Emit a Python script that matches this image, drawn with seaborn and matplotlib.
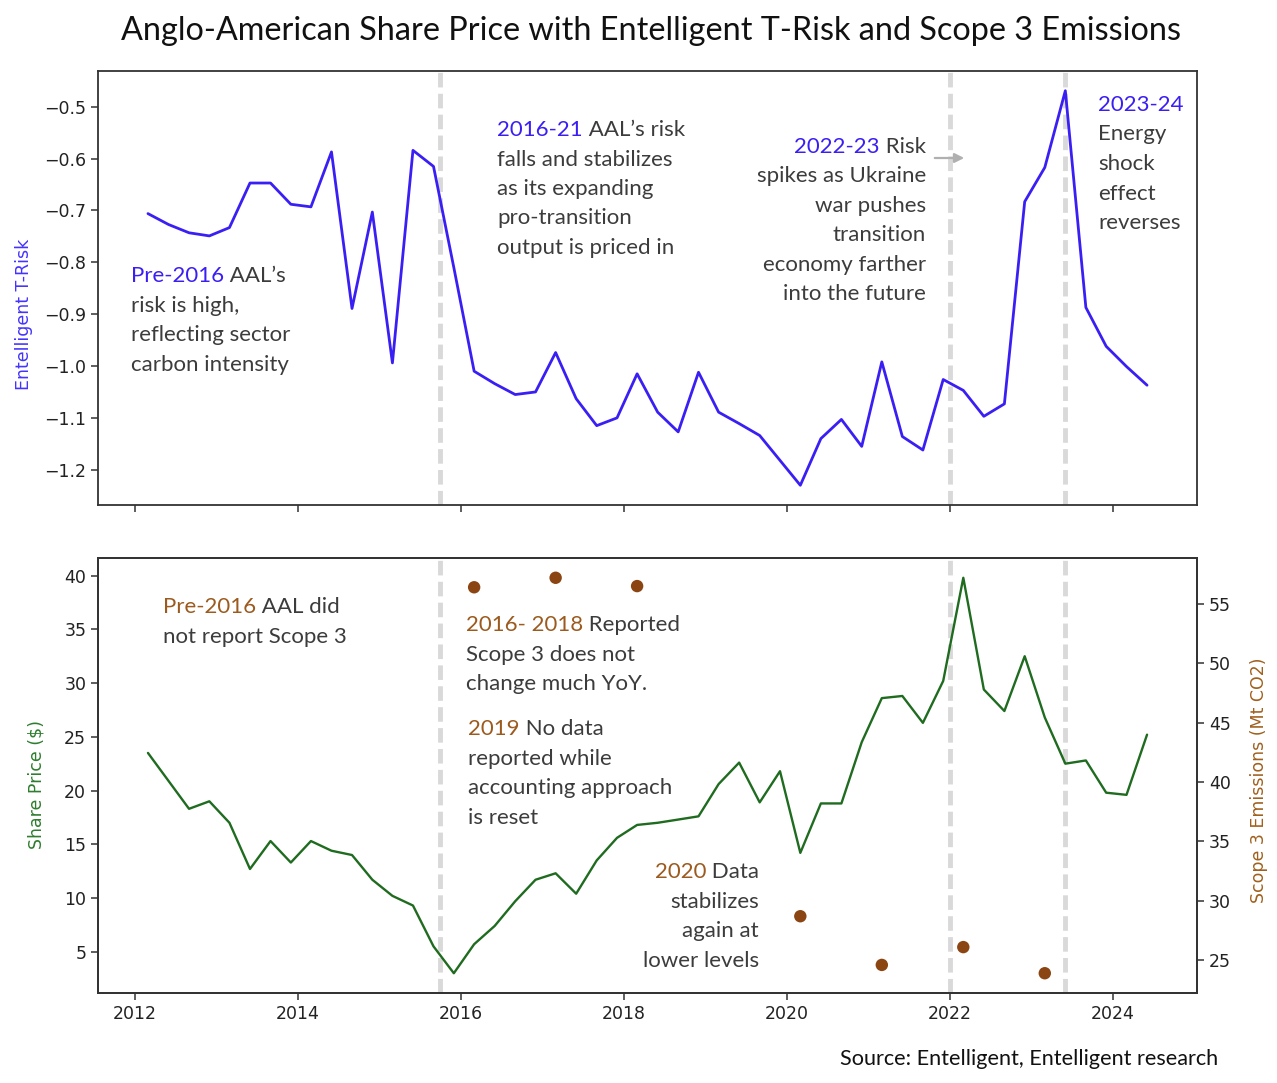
import numpy as np
import pandas as pd
import matplotlib
matplotlib.use("Agg")
import matplotlib.pyplot as plt
import seaborn as sns

# ---------------- data ----------------
quarters = [
    "2012-03-01", "2012-06-01", "2012-09-01", "2012-12-01",
    "2013-03-01", "2013-06-01", "2013-09-01", "2013-12-01",
    "2014-03-01", "2014-06-01", "2014-09-01", "2014-12-01",
    "2015-03-01", "2015-06-01", "2015-09-01", "2015-12-01",
    "2016-03-01", "2016-06-01", "2016-09-01", "2016-12-01",
    "2017-03-01", "2017-06-01", "2017-09-01", "2017-12-01",
    "2018-03-01", "2018-06-01", "2018-09-01", "2018-12-01",
    "2019-03-01", "2019-06-01", "2019-09-01", "2019-12-01",
    "2020-03-01", "2020-06-01", "2020-09-01", "2020-12-01",
    "2021-03-01", "2021-06-01", "2021-09-01", "2021-12-01",
    "2022-03-01", "2022-06-01", "2022-09-01", "2022-12-01",
    "2023-03-01", "2023-06-01", "2023-09-01", "2023-12-01",
    "2024-03-01", "2024-06-01",
]
t_risk = [
    -0.706, -0.727, -0.743, -0.749, -0.733, -0.647, -0.647, -0.688, -0.693, -0.587,
    -0.889, -0.703, -0.994, -0.584, -0.615, -0.810, -1.010, -1.034, -1.055, -1.050,
    -0.974, -1.063, -1.115, -1.100, -1.015, -1.089, -1.127, -1.012, -1.089, -1.111,
    -1.134, -1.182, -1.230, -1.140, -1.103, -1.155, -0.992, -1.136, -1.162, -1.026,
    -1.047, -1.097, -1.073, -0.683, -0.617, -0.469, -0.887, -0.962, -1.001, -1.037,
]
share_price = [
    23.5, 20.9, 18.3, 19.0, 17.0, 12.7, 15.3, 13.3, 15.3, 14.4,
    14.0, 11.7, 10.2, 9.3, 5.5, 3.0, 5.7, 7.4, 9.7, 11.7,
    12.3, 10.4, 13.5, 15.6, 16.8, 17.0, 17.3, 17.6, 20.6, 22.6,
    18.9, 21.8, 14.2, 18.8, 18.8, 24.5, 28.6, 28.8, 26.3, 30.2,
    39.8, 29.4, 27.4, 32.5, 26.8, 22.5, 22.8, 19.8, 19.6, 25.2,
]
scope3_dates = ["2016-03-01", "2017-03-01", "2018-03-01", "2020-03-01",
                "2021-03-01", "2022-03-01", "2023-03-01"]
scope3_values = [56.4, 57.2, 56.5, 28.7, 24.6, 26.1, 23.9]
event_dates = ["2015-10-01", "2022-01-01", "2023-06-01"]
year_ticks = ["2012", "2014", "2016", "2018", "2020", "2022", "2024"]

df = pd.DataFrame({"date": pd.to_datetime(quarters), "risk": t_risk, "price": share_price})
ds = pd.DataFrame({"date": pd.to_datetime(scope3_dates), "scope3": scope3_values})

# ---------------- style ----------------
sns.set_theme(style="ticks")
plt.rcParams["font.family"] = ["DejaVu Sans"]

W, H = 1277, 1083
BLUE = "#3a1ff5"
GREEN = "#1f6b1f"
BROWN_DOT = "#8b4513"
BROWN_TXT = "#9c5a1e"
GRAY_TXT = "#3c3c3c"
SPINE = "#333333"
ANN_FONT = "Lato"
ANN_SIZE = 16

fig = plt.figure(figsize=(W / 100, H / 100), dpi=100)
ax_t = fig.add_axes([98 / W, 1 - 505 / H, 1099 / W, 434 / H])
ax_b = fig.add_axes([98 / W, 1 - 993 / H, 1099 / W, 435 / H], sharex=ax_t)
ax_r = ax_b.twinx()

sns.lineplot(data=df, x="date", y="risk", ax=ax_t, color=BLUE, lw=2.0)
sns.lineplot(data=df, x="date", y="price", ax=ax_b, color=GREEN, lw=1.7)
sns.scatterplot(data=ds, x="date", y="scope3", ax=ax_r, color=BROWN_DOT, s=80,
                edgecolor="none", zorder=3)

for ax in (ax_t, ax_b):
    for d in event_dates:
        ax.axvline(pd.Timestamp(d), color="#d9d9d9", lw=3.5, dashes=(3, 1.3), zorder=0)

ticks = [pd.Timestamp(y + "-01-01") for y in year_ticks]
ax_b.set_xticks(ticks)
ax_b.set_xticklabels(year_ticks)
plt.setp(ax_t.get_xticklabels(), visible=False)

for ax in (ax_t, ax_b, ax_r):
    for s in ax.spines.values():
        s.set_color(SPINE)
        s.set_linewidth(1.3)
    ax.tick_params(length=5, width=1.1, color=SPINE, labelsize=12.5, labelcolor="#222222")
    ax.set_xlabel("")

ax_t.set_yticks([-0.5, -0.6, -0.7, -0.8, -0.9, -1.0, -1.1, -1.2])
ax_b.set_yticks([5, 10, 15, 20, 25, 30, 35, 40])
ax_r.set_yticks([25, 30, 35, 40, 45, 50, 55])

ax_t.set_ylabel("Entelligent T-Risk", color="#4433ff", fontsize=12.5)
ax_t.yaxis.set_label_coords(-0.059, 0.44)
ax_b.set_ylabel("Share Price ($)", color="#2e7d2e", fontsize=12.5)
ax_b.yaxis.set_label_coords(-0.048, 0.48)
ax_r.set_ylabel("Scope 3 Emissions (Mt CO2)", color="#a0601e", fontsize=12.5)
ax_r.yaxis.set_label_coords(1.048, 0.49)

# ---------------- text ----------------
fig.text(651 / W, 1 - 40 / H,
         "Anglo-American Share Price with Entelligent T-Risk and Scope 3 Emissions",
         ha="center", va="baseline", fontsize=23.3, family=ANN_FONT, color="#111111")
fig.text(1218 / W, 1 - 1065 / H, "Source: Entelligent, Entelligent research",
         ha="right", va="baseline", fontsize=15.6, family=ANN_FONT, color="#111111")


def block(lines, hl, hlc, x, y0, step, ha):
    kw = dict(fontsize=ANN_SIZE, family=ANN_FONT)
    for k, line in enumerate(lines):
        y = 1 - (y0 + k * step) / H
        if k == 0:
            rest = line[len(hl):]
            if ha == "left":
                t = fig.text(x / W, y, hl, color=hlc, ha="left", va="baseline", **kw)
                fig.add_artist(plt.Annotation(rest, xy=(1, 0), xycoords=t, ha="left",
                                              va="bottom", color=GRAY_TXT, **kw))
            else:
                t = fig.text(x / W, y, rest, color=GRAY_TXT, ha="right", va="baseline", **kw)
                fig.add_artist(plt.Annotation(hl, xy=(0, 0), xycoords=t, ha="right",
                                              va="bottom", color=hlc, **kw))
        else:
            fig.text(x / W, y, line, color=GRAY_TXT, ha=ha, va="baseline", **kw)


block(["Pre-2016 AAL\u2019s", "risk is high,", "reflecting sector", "carbon intensity"],
      "Pre-2016", BLUE, 131, 282, 29.6, "left")
block(["2016-21 AAL\u2019s risk", "falls and stabilizes", "as its expanding",
       "pro-transition", "output is priced in"],
      "2016-21", BLUE, 497, 136, 29.5, "left")
block(["2022-23 Risk", "spikes as Ukraine", "war pushes", "transition",
       "economy farther", "into the future"],
      "2022-23", BLUE, 926, 153, 29.4, "right")
block(["2023-24", "Energy", "shock", "effect", "reverses"],
      "2023-24", BLUE, 1098, 111, 29.5, "left")

block(["Pre-2016 AAL did", "not report Scope 3"], "Pre-2016", BROWN_TXT, 163, 613, 29.6, "left")
block(["2016- 2018 Reported", "Scope 3 does not", "change much YoY."],
      "2016- 2018", BROWN_TXT, 466, 631, 29.6, "left")
block(["2019 No data", "reported while", "accounting approach", "is reset"],
      "2019", BROWN_TXT, 468, 735, 29.6, "left")
block(["2020 Data", "stabilizes", "again at", "lower levels"],
      "2020", BROWN_TXT, 759, 878, 29.6, "right")

fig.add_artist(plt.Annotation("", xy=(967 / W, 1 - 158 / H), xycoords="figure fraction",
                              xytext=(932 / W, 1 - 158 / H), textcoords="figure fraction",
                              arrowprops=dict(arrowstyle="-|>", color="#b0b0b0", lw=1.6,
                                              mutation_scale=14)))

fig.savefig("out.png", dpi=100)
